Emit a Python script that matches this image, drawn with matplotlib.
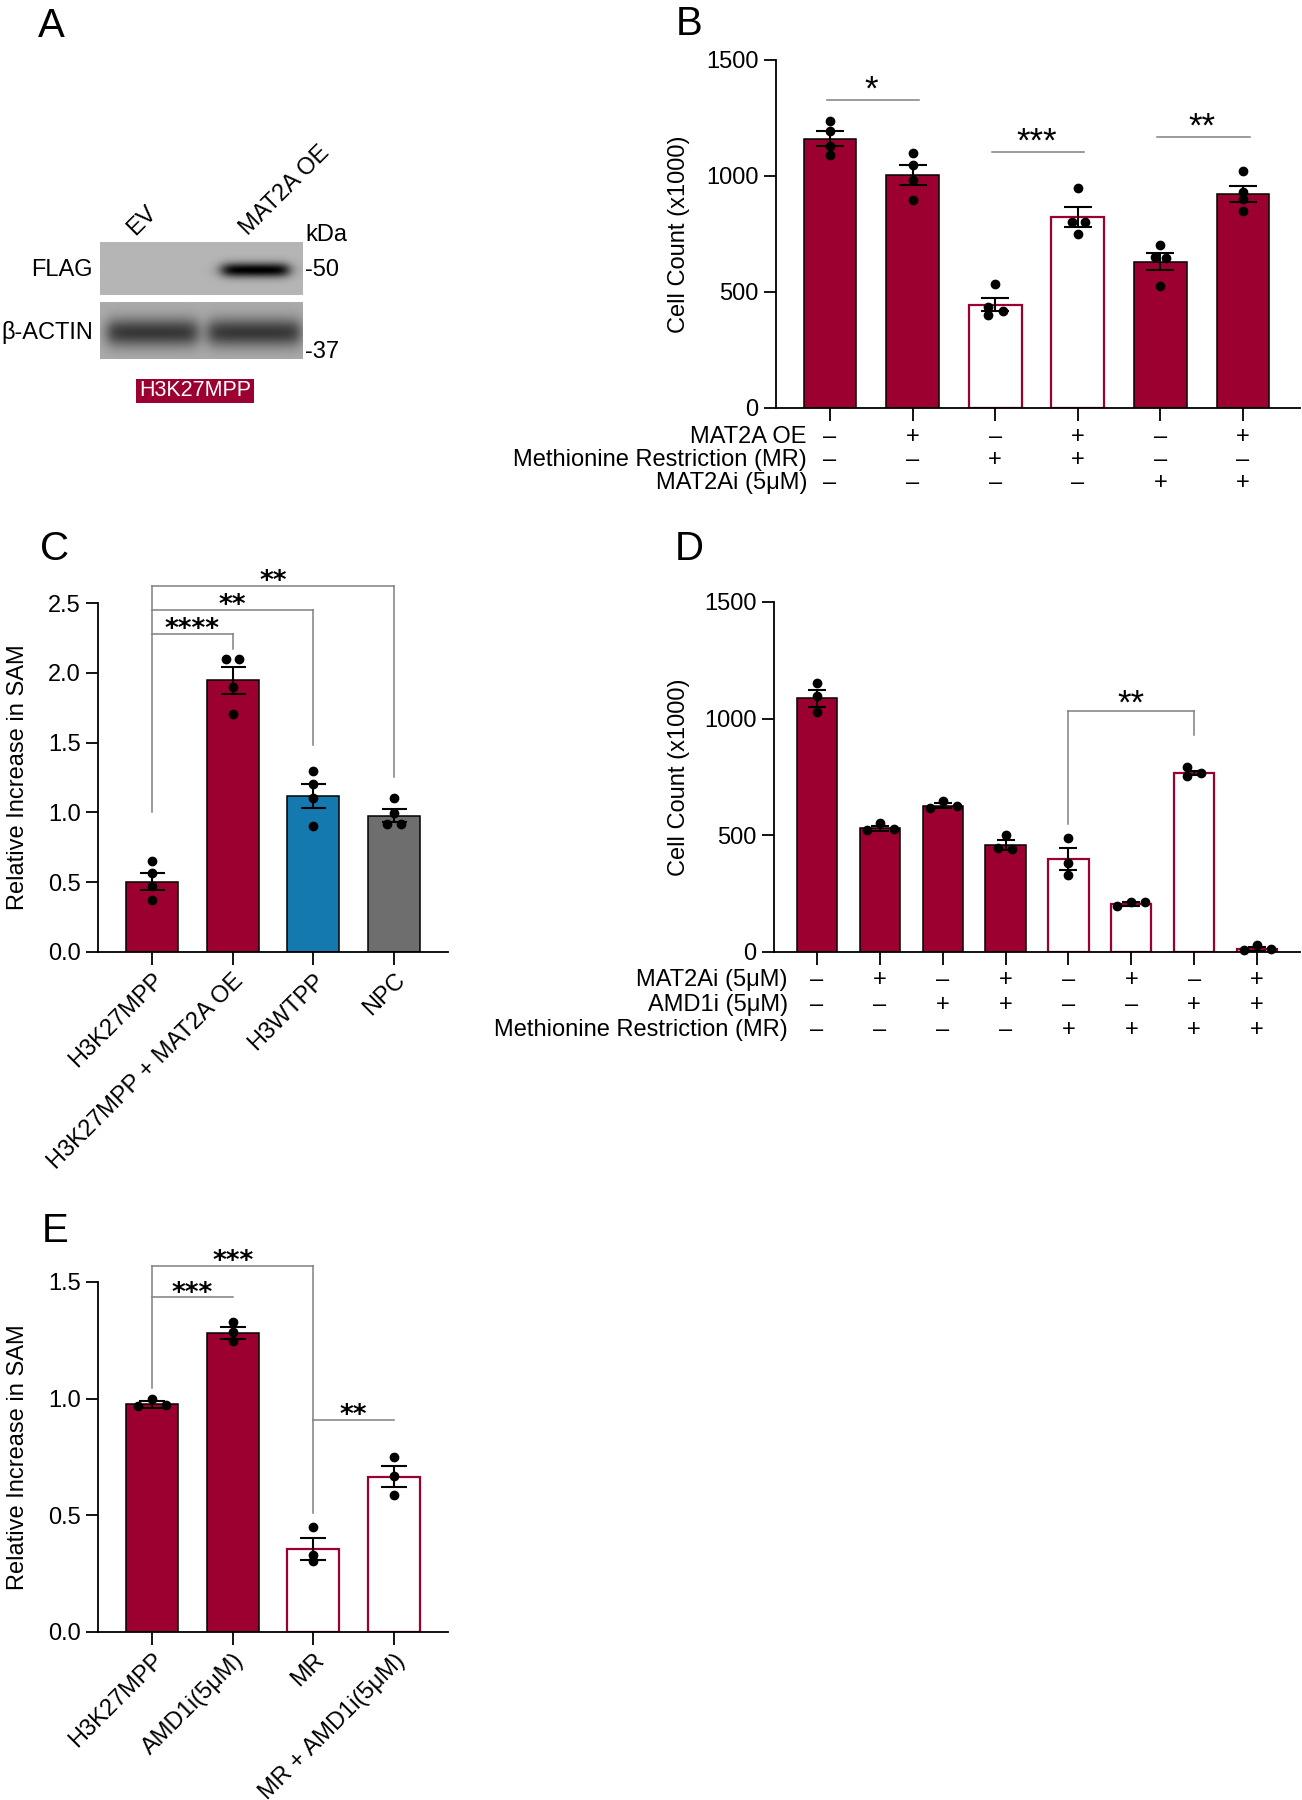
import numpy as np
import matplotlib
matplotlib.use('Agg')
import matplotlib.pyplot as plt
from matplotlib import transforms
from matplotlib.patches import Rectangle

plt.rcParams['font.family'] = ['Liberation Sans', 'DejaVu Sans']

W, H = 1302, 1800
CRIMSON = '#9c0030'
BLUE = '#1479ae'
GREY = '#6e6e6e'
LINE_GREY = '#808080'
FS = 17

# A - western blot (band strength per lane)
blot_lanes = ['EV', 'MAT2A OE']
flag_signal = [0.0, 1.0]
actin_signal = [1.0, 1.0]

# B - cell count, MAT2A OE / MR / MAT2Ai
b_means = [1160, 1005, 446, 823, 631, 923]
b_sems = [32, 43, 30, 44, 36, 36]
b_points = [[1236, 1196, 1129, 1089], [1099, 1047, 981, 898], [534, 437, 418, 401],
            [948, 802, 802, 748], [702, 652, 645, 527], [1020, 931, 903, 848]]
b_jitter = [[0, 0, 0, 0], [0, 0, 0, 0], [0, -0.09, 0.09, -0.09],
            [0, -0.07, 0.09, 0], [0, -0.07, 0.07, 0], [0, 0, 0, 0]]
b_open = [False, False, True, True, False, False]
b_rows = ['MAT2A OE', 'Methionine Restriction (MR)', 'MAT2Ai (5μM)']
b_signs = [['–', '+', '–', '+', '–', '+'],
           ['–', '–', '+', '+', '–', '–'],
           ['–', '–', '–', '–', '+', '+']]
b_sig = [(0, 1, 1328, '*'), (2, 3, 1103, '***'), (4, 5, 1168, '**')]

# C - relative SAM
c_labels = ['H3K27MPP', 'H3K27MPP + MAT2A OE', 'H3WTPP', 'NPC']
c_means = [0.505, 1.945, 1.12, 0.975]
c_sems = [0.062, 0.095, 0.085, 0.046]
c_points = [[0.655, 0.565, 0.47, 0.374], [2.10, 2.10, 1.90, 1.705],
            [1.299, 1.204, 1.10, 0.899], [1.10, 0.999, 0.919, 0.919]]
c_jitter = [[0, 0, 0, 0], [-0.083, 0.083, 0, 0], [0, 0, 0, 0], [0, 0, -0.083, 0.09]]
c_colors = [CRIMSON, CRIMSON, BLUE, GREY]
c_sig = [(0, 1, 2.278, '****'), (0, 2, 2.447, '**'), (0, 3, 2.619, '**')]
c_legs = [(0, 1.002, 2.619), (1, 2.168, 2.278), (2, 1.483, 2.447), (3, 1.254, 2.619)]

# D - cell count, MAT2Ai / AMD1i / MR
d_means = [1088, 530, 627, 457, 398, 206, 767, 13]
d_sems = [36, 10, 10, 22, 47, 8, 10, 7]
d_points = [[1152, 1098, 1030], [522, 551, 528], [617, 648, 627], [500, 445, 442],
            [489, 380, 329], [199, 213, 213], [791, 753, 767], [10, 29, 13]]
d_jitter = [[0, 0, 0], [-0.21, 0, 0.23], [-0.2, 0, 0.22], [0, -0.12, 0.11],
            [0, 0, 0], [-0.22, 0, 0.22], [-0.12, -0.12, 0.11], [-0.2, 0, 0.22]]
d_open = [False, False, False, False, True, True, True, True]
d_rows = ['MAT2Ai (5μM)', 'AMD1i (5μM)', 'Methionine Restriction (MR)']
d_signs = [['–', '+', '–', '+', '–', '+', '–', '+'],
           ['–', '–', '+', '+', '–', '–', '+', '+'],
           ['–', '–', '–', '–', '+', '+', '+', '+']]
d_sig = [(4, 6, 1033, '**')]
d_legs = [(4, 550, 1033), (6, 928, 1033)]

# E - relative SAM with AMD1i
e_labels = ['H3K27MPP', 'AMD1i(5μM)', 'MR', 'MR + AMD1i(5μM)']
e_means = [0.976, 1.280, 0.356, 0.665]
e_sems = [0.014, 0.026, 0.046, 0.045]
e_points = [[0.967, 0.997, 0.975], [1.328, 1.287, 1.249],
            [0.448, 0.328, 0.303], [0.751, 0.669, 0.587]]
e_jitter = [[-0.18, 0, 0.166], [0, 0, 0], [0, 0, 0], [0, 0, 0]]
e_open = [False, False, True, True]
e_sig = [(0, 1, 1.434, '***'), (0, 2, 1.570, '***'), (2, 3, 0.910, '**')]
e_legs = [(0, 1.046, 1.570), (2, 0.508, 1.570)]

fig = plt.figure(figsize=(W / 100, H / 100), dpi=100)


def fx(x):
    return x / W


def fy(y):
    return 1 - y / H


def px_axes(left, top, right, bottom):
    return fig.add_axes([fx(left), fy(bottom), (right - left) / W, (bottom - top) / H])


def style(ax):
    for s in ['top', 'right']:
        ax.spines[s].set_visible(False)
    for s in ['left', 'bottom']:
        ax.spines[s].set_linewidth(1.3)
    ax.tick_params(width=1.3, length=9, labelsize=FS, pad=3.5)


def draw_bars(ax, means, sems, points, jitter, faces, open_flags, width, cap):
    x = np.arange(len(means))
    for i, m in enumerate(means):
        if open_flags[i]:
            ax.bar(i, m, width=width, color='white', edgecolor=CRIMSON, linewidth=1.6, zorder=2)
        else:
            ax.bar(i, m, width=width, color=faces[i], edgecolor='black', linewidth=1.1, zorder=2)
    ax.errorbar(x, means, yerr=sems, fmt='none', ecolor='black', elinewidth=1.5,
                capsize=cap, capthick=1.5, zorder=3)
    for i, (pts, jit) in enumerate(zip(points, jitter)):
        ax.plot(i + np.array(jit), pts, 'o', color='black', ms=6, zorder=4, clip_on=False)
    ax.set_xticks(x)


def brackets(ax, sig, legs, star_kw, star_off, ext=(0, 0)):
    for i, j, h, txt in sig:
        ax.plot([i - ext[0], j + ext[1]], [h, h], color=LINE_GREY, lw=1.1, clip_on=False, zorder=1)
        ax.annotate(txt, xy=((i + j) / 2, h), xytext=(0, star_off), textcoords='offset points',
                    ha='center', va='baseline', annotation_clip=False, **star_kw)
    for i, lo, hi in legs:
        ax.plot([i, i], [lo, hi], color=LINE_GREY, lw=1.1, clip_on=False, zorder=1)


def condition_rows(ax, rows, signs, ys, label_right):
    trans = transforms.blended_transform_factory(ax.transData, fig.transFigure)
    for name, row, y in zip(rows, signs, ys):
        fig.text(fx(label_right), fy(y), name, ha='right', va='center', fontsize=17)
        for i, s in enumerate(row):
            ax.text(i, fy(y), s, transform=trans, ha='center', va='center', fontsize=17)


def blot_strip(signal, centers, half_w, cy, sy, bg, dark, shape):
    h, w = shape
    yy, xx = np.mgrid[0:h, 0:w]
    img = np.full(shape, bg, dtype=float)
    for s, c, hw in zip(signal, centers, half_w):
        px = 1 / (1 + np.exp((np.abs(xx - c) - hw) / 4.0))
        py = np.exp(-0.5 * ((yy - cy) / sy) ** 2)
        img -= dark * s * px * py
    return np.clip(img, 0, 1)


# panel letters
for letter, x, y in [('A', 38, 37), ('B', 676, 35), ('C', 40, 560), ('D', 675, 560), ('E', 42, 1242)]:
    fig.text(fx(x), fy(y), letter, fontsize=29, ha='left', va='baseline')

# ---- A
ax_flag = px_axes(100, 242, 303, 295)
ax_flag.imshow(blot_strip(flag_signal, [52, 155], [45, 33], 28, 5, 0.71, 0.72, (53, 203)),
               cmap='gray', vmin=0, vmax=1, aspect='auto', interpolation='bilinear')
ax_flag.axis('off')
ax_actin = px_axes(100, 302, 303, 359)
ax_actin.imshow(blot_strip(actin_signal, [52, 154], [45, 46], 30, 10, 0.67, 0.45, (57, 203)),
                cmap='gray', vmin=0, vmax=1, aspect='auto', interpolation='bilinear')
ax_actin.axis('off')
for name, x in zip(blot_lanes, [135, 248]):
    fig.text(fx(x), fy(236), name, rotation=45, rotation_mode='anchor', ha='left', va='baseline', fontsize=17)
fig.text(fx(93), fy(270), 'FLAG', ha='right', va='center', fontsize=17)
fig.text(fx(93), fy(332), 'β-ACTIN', ha='right', va='center', fontsize=17)
fig.text(fx(305), fy(235), 'kDa', ha='left', va='center', fontsize=17)
fig.text(fx(305), fy(270), '-50', ha='left', va='center', fontsize=17)
fig.text(fx(305), fy(352), '-37', ha='left', va='center', fontsize=17)
fig.patches.append(Rectangle((fx(136), fy(403)), 118 / W, 24 / H, transform=fig.transFigure,
                             facecolor=CRIMSON, edgecolor='none'))
fig.text(fx(195), fy(391), 'H3K27MPP', color='white', ha='center', va='center', fontsize=15.5)

# ---- B
ax_b = px_axes(776, 60, 1300, 408)
style(ax_b)
draw_bars(ax_b, b_means, b_sems, b_points, b_jitter, [CRIMSON] * 6, b_open, 0.64, 10)
ax_b.set_xticklabels([])
ax_b.set_xlim(-0.654, 5.69)
ax_b.set_ylim(0, 1500)
ax_b.set_yticks([0, 500, 1000, 1500])
brackets(ax_b, b_sig, [], dict(fontsize=25), 0, ext=(0.04, 0.08))
condition_rows(ax_b, b_rows, b_signs, [437, 460, 483], 807)
fig.text(fx(679), fy(234), 'Cell Count (x1000)', rotation=90, ha='center', va='center', fontsize=FS)

# ---- C
ax_c = px_axes(98, 603, 448, 952)
style(ax_c)
draw_bars(ax_c, c_means, c_sems, c_points, c_jitter, c_colors, [False] * 4, 0.65, 9)
ax_c.set_xticklabels(c_labels, rotation=45, ha='right', rotation_mode='anchor', fontsize=FS)
ax_c.set_xlim(-0.672, 3.672)
ax_c.set_ylim(0, 2.5)
ax_c.set_yticks([0, 0.5, 1.0, 1.5, 2.0, 2.5])
ax_c.set_yticklabels(['0.0', '0.5', '1.0', '1.5', '2.0', '2.5'])
brackets(ax_c, c_sig, c_legs, dict(fontsize=19, family='DejaVu Sans', fontweight='bold'), -2)
fig.text(fx(18), fy(777), 'Relative Increase in SAM', rotation=90, ha='center', va='center', fontsize=FS)

# ---- D
ax_d = px_axes(774, 602, 1300, 952)
style(ax_d)
draw_bars(ax_d, d_means, d_sems, d_points, d_jitter, [CRIMSON] * 8, d_open, 0.64, 6.5)
ax_d.set_xticklabels([])
ax_d.set_xlim(-0.684, 7.684)
ax_d.set_ylim(0, 1500)
ax_d.set_yticks([0, 500, 1000, 1500])
brackets(ax_d, d_sig, d_legs, dict(fontsize=25), -1.7)
condition_rows(ax_d, d_rows, d_signs, [980, 1005, 1030], 788)
fig.text(fx(679), fy(777), 'Cell Count (x1000)', rotation=90, ha='center', va='center', fontsize=FS)

# ---- E
ax_e = px_axes(98, 1282, 448, 1632)
style(ax_e)
draw_bars(ax_e, e_means, e_sems, e_points, e_jitter, [CRIMSON] * 4, e_open, 0.65, 9.5)
ax_e.set_xticklabels(e_labels, rotation=45, ha='right', rotation_mode='anchor', fontsize=FS)
ax_e.set_xlim(-0.672, 3.672)
ax_e.set_ylim(0, 1.5)
ax_e.set_yticks([0, 0.5, 1.0, 1.5])
ax_e.set_yticklabels(['0.0', '0.5', '1.0', '1.5'])
brackets(ax_e, e_sig, e_legs, dict(fontsize=19, family='DejaVu Sans', fontweight='bold'), -2.5)
fig.text(fx(18), fy(1457), 'Relative Increase in SAM', rotation=90, ha='center', va='center', fontsize=FS)

fig.savefig('out.png', dpi=100)
